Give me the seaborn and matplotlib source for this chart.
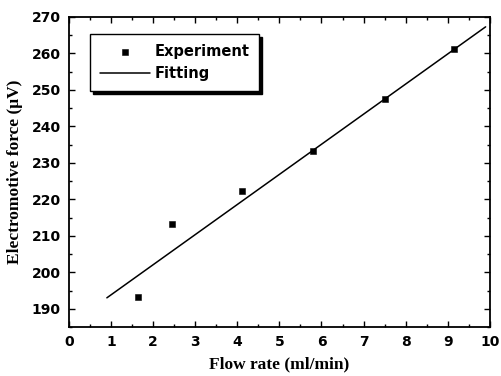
import pandas as pd
import seaborn as sns
import matplotlib.pyplot as plt
from matplotlib.ticker import MultipleLocator

# measured points
flow_rate = [1.65, 2.45, 4.12, 5.8, 7.5, 9.15]
emf = [193.2, 213.3, 222.3, 233.3, 247.4, 261.2]

# fitted line end points
fit_x = [0.9, 9.9]
fit_y = [193.0, 267.3]

df_exp = pd.DataFrame({'x': flow_rate, 'y': emf})
df_fit = pd.DataFrame({'x': fit_x, 'y': fit_y})

sns.set_style('ticks')
plt.rcParams['font.family'] = ['DejaVu Sans']
plt.rcParams['text.color'] = 'black'
plt.rcParams['axes.labelcolor'] = 'black'

fig = plt.figure(figsize=(5.01, 3.76), dpi=100)
ax = fig.add_axes([0.1377, 0.1303, 0.840, 0.8245])

sns.lineplot(data=df_fit, x='x', y='y', ax=ax, color='black', linewidth=1.1,
             label='Fitting', legend=False)
sns.scatterplot(data=df_exp, x='x', y='y', ax=ax, color='black', marker='s',
                s=22, edgecolor='black', label='Experiment', legend=False, zorder=3)

ax.set_xlim(0, 10)
ax.set_ylim(185, 270)
ax.xaxis.set_major_locator(MultipleLocator(1))
ax.xaxis.set_minor_locator(MultipleLocator(0.5))
ax.yaxis.set_major_locator(MultipleLocator(10))
ax.yaxis.set_minor_locator(MultipleLocator(5))
ax.tick_params(which='both', direction='in', top=True, right=True, width=1,
               color='black', labelcolor='black')
ax.tick_params(which='major', length=4, labelsize=10, pad=6)
ax.tick_params(which='minor', length=2)
for lab in ax.get_xticklabels() + ax.get_yticklabels():
    lab.set_fontweight('heavy')
for s in ax.spines.values():
    s.set_linewidth(1.3)
    s.set_color('black')

ax.set_xlabel('Flow rate (ml/min)', family='Liberation Serif', fontweight='bold',
              fontsize=12.5, labelpad=5)
ax.set_ylabel('Electromotive force (\u03bcV)', family='Liberation Serif',
              fontweight='bold', fontsize=12.5, labelpad=6)

# legend: Experiment first, then Fitting
handles, labels = ax.get_legend_handles_labels()
order = [labels.index('Experiment'), labels.index('Fitting')]
leg = ax.legend([handles[i] for i in order], [labels[i] for i in order],
                loc='upper left', bbox_to_anchor=(0.05, 0.945), borderaxespad=0,
                frameon=True, fancybox=False,
                shadow={'color': 'black', 'alpha': 1},
                prop={'weight': 'bold', 'size': 10.5}, handlelength=3.4,
                handletextpad=0.3, borderpad=0.7, labelspacing=0.45,
                edgecolor='black')
leg.get_frame().set_linewidth(1.0)

fig.savefig('out.png', dpi=100)
